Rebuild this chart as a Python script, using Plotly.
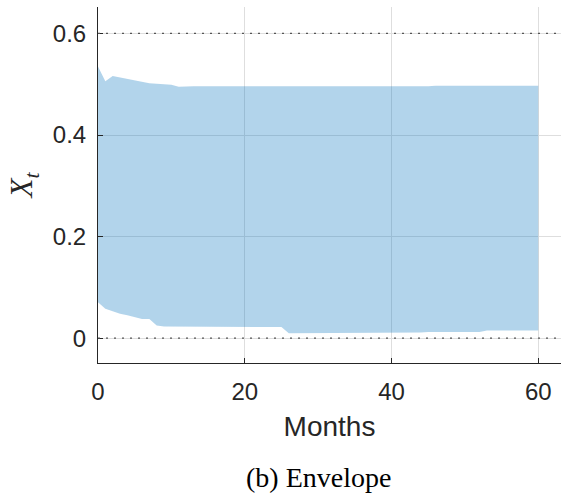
import plotly.graph_objects as go

months = list(range(0, 61))
upper = [0.535, 0.506, 0.516, 0.513, 0.510, 0.508, 0.505, 0.502, 0.501, 0.500,
         0.499, 0.495, 0.496, 0.496, 0.496, 0.496, 0.496, 0.496, 0.495, 0.495,
         0.495, 0.495, 0.495, 0.495, 0.495, 0.495, 0.495, 0.495, 0.495, 0.495,
         0.495, 0.495, 0.495, 0.495, 0.495, 0.495, 0.495, 0.496, 0.496, 0.496,
         0.496, 0.496, 0.496, 0.496, 0.496, 0.496, 0.497, 0.497, 0.497, 0.497,
         0.497, 0.497, 0.497, 0.497, 0.497, 0.497, 0.497, 0.497, 0.497, 0.497,
         0.497]
lower = [0.071, 0.058, 0.053, 0.048, 0.045, 0.041, 0.038, 0.038, 0.025, 0.023,
         0.023, 0.022, 0.022, 0.022, 0.022, 0.022, 0.022, 0.022, 0.022, 0.022,
         0.022, 0.022, 0.022, 0.022, 0.022, 0.022, 0.010, 0.010, 0.011, 0.011,
         0.011, 0.011, 0.011, 0.011, 0.011, 0.011, 0.011, 0.011, 0.011, 0.011,
         0.011, 0.011, 0.011, 0.011, 0.011, 0.012, 0.012, 0.012, 0.012, 0.012,
         0.012, 0.012, 0.012, 0.015, 0.015, 0.015, 0.015, 0.015, 0.015, 0.015,
         0.015]
x_ticks = [0, 20, 40, 60]
y_ticks = [0, 0.2, 0.4, 0.6]
y_tick_text = ["0", "0.2", "0.4", "0.6"]
ref_lines = [0, 0.6]

fill_col = "rgba(0,114,189,0.3)"

fig = go.Figure()
fig.add_trace(go.Scatter(x=months, y=lower, mode="lines", line=dict(width=0),
                         showlegend=False, hoverinfo="skip"))
fig.add_trace(go.Scatter(x=months, y=upper, mode="lines", line=dict(width=0),
                         fill="tonexty", fillcolor=fill_col, showlegend=False))

for yv in ref_lines:
    fig.add_shape(type="line", xref="paper", x0=0, x1=1, yref="y", y0=yv, y1=yv,
                  line=dict(color="#555555", width=1.3, dash="2px,6px"), layer="above")

axis_font = dict(family="Liberation Sans, Arial", size=24, color="#262626")

fig.update_layout(
    width=561, height=495,
    margin=dict(l=98, r=0, t=7, b=132),
    plot_bgcolor="white", paper_bgcolor="white",
    xaxis=dict(range=[0, 63.1], tickvals=x_ticks, ticks="inside", ticklen=5,
               tickcolor="#262626", showline=True, linecolor="#262626", linewidth=1,
               showgrid=True, gridcolor="#dedede", gridwidth=1, zeroline=False,
               tickfont=axis_font, ticklabelstandoff=7,
               title=dict(text="Months", font=dict(family="Liberation Sans, Arial", size=28,
                                                    color="#262626"), standoff=12)),
    yaxis=dict(range=[-0.0488, 0.652], tickvals=y_ticks, ticktext=y_tick_text,
               ticks="inside", ticklen=5, tickcolor="#262626", showline=True,
               linecolor="#262626", linewidth=1, showgrid=True, gridcolor="#dedede",
               gridwidth=1, zeroline=False, tickfont=axis_font, ticklabelstandoff=6,
               title=dict(text="<i>X</i><sub><i>t</i></sub>",
                          font=dict(family="Liberation Serif, serif", size=31, color="#262626"),
                          standoff=10)),
    annotations=[dict(text="(b) Envelope", xref="paper", yref="paper",
                      x=(318 - 98) / 463, y=-(477 - 363) / 356, xanchor="center",
                      yanchor="middle", showarrow=False,
                      font=dict(family="Liberation Serif, serif", size=28, color="black"))],
)

fig.write_html("out.html")
